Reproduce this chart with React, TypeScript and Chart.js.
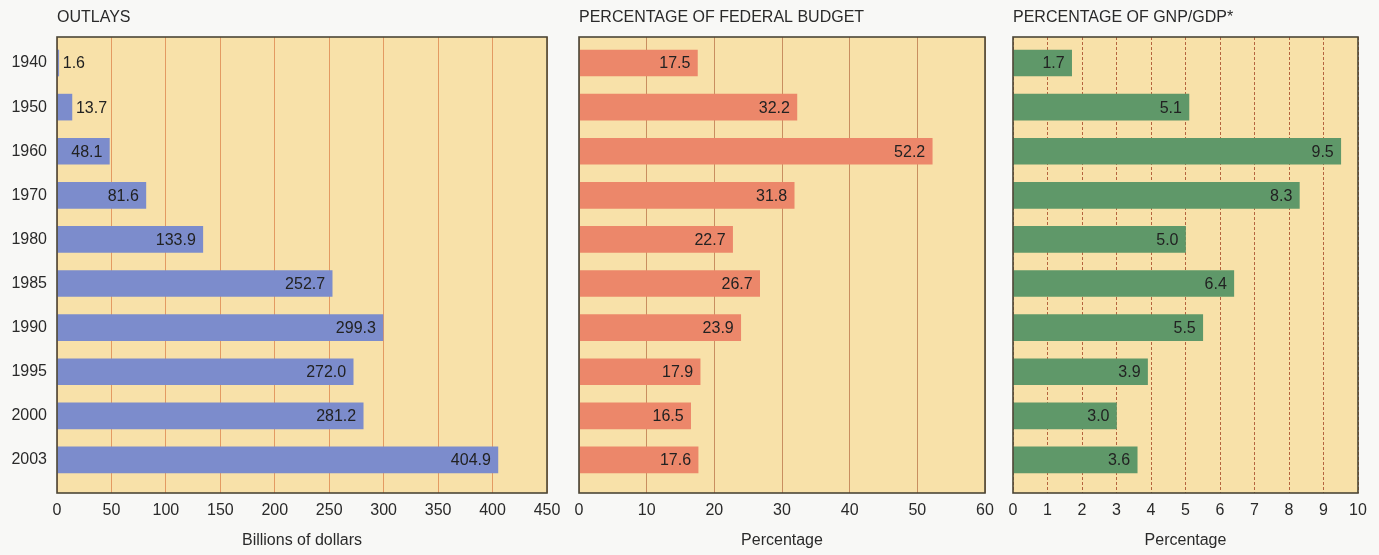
import React, { useEffect, useRef } from 'react';
import { Chart, registerables } from 'chart.js';

Chart.register(...registerables);

const YEARS = ['1940', '1950', '1960', '1970', '1980', '1985', '1990', '1995', '2000', '2003'];
const OUTLAYS = [1.6, 13.7, 48.1, 81.6, 133.9, 252.7, 299.3, 272.0, 281.2, 404.9];
const PCT_BUDGET = [17.5, 32.2, 52.2, 31.8, 22.7, 26.7, 23.9, 17.9, 16.5, 17.6];
const PCT_GDP = [1.7, 5.1, 9.5, 8.3, 5.0, 6.4, 5.5, 3.9, 3.0, 3.6];

const OUTLAY_AXIS = { max: 450, step: 50 };
const BUDGET_AXIS = { max: 60, step: 10 };
const GDP_AXIS = { max: 10, step: 1 };

const FONT = "'Liberation Sans', Arial, sans-serif";
const TEXT = '#2a2a2a';
const PLOT_BG = '#f8e1a9';
const FRAME = '#4b4636';

const framePlugin = {
  id: 'frameAndLabels',
  beforeDraw(chart: any) {
    const { ctx, chartArea: a } = chart;
    ctx.save();
    ctx.fillStyle = PLOT_BG;
    ctx.fillRect(a.left, a.top, a.right - a.left, a.bottom - a.top);
    ctx.restore();
  },
  afterDatasetsDraw(chart: any) {
    const { ctx, chartArea: a } = chart;
    const meta = chart.getDatasetMeta(0);
    const values = chart.data.datasets[0].data;
    ctx.save();
    ctx.font = `16px ${FONT}`;
    ctx.fillStyle = '#222222';
    ctx.textBaseline = 'middle';
    meta.data.forEach((bar: any, i: number) => {
      const txt = Number(values[i].x).toFixed(1);
      const tw = ctx.measureText(txt).width;
      const w = bar.x - bar.base;
      const pad = 7;
      if (w >= tw + pad * 2) {
        ctx.textAlign = 'right';
        ctx.fillText(txt, bar.x - pad, bar.y + 1);
      } else {
        ctx.textAlign = 'left';
        ctx.fillText(txt, bar.x + 4, bar.y + 1);
      }
    });
    ctx.strokeStyle = FRAME;
    ctx.lineWidth = 1.6;
    ctx.strokeRect(a.left, a.top, a.right - a.left, a.bottom - a.top);
    ctx.restore();
  },
};

type PanelProps = {
  left: number;
  width: number;
  title: string;
  values: number[];
  axis: { max: number; step: number };
  color: string;
  gridColor: string;
  gridDash: number[];
  axisTitle: string;
  showYears: boolean;
  padLeft: number;
  padRight: number;
};

function Panel(p: PanelProps) {
  const ref = useRef<HTMLCanvasElement>(null);
  useEffect(() => {
    const chart = new Chart(ref.current as HTMLCanvasElement, {
      type: 'bar',
      data: {
        datasets: [
          {
            data: p.values.map((v, i) => ({ x: v, y: i })),
            backgroundColor: p.color,
            borderWidth: 0,
            barThickness: 26,
          } as any,
        ],
      },
      options: {
        animation: false,
        responsive: true,
        maintainAspectRatio: false,
        indexAxis: 'y',
        layout: { padding: { left: p.padLeft, right: p.padRight, top: 0, bottom: 0 } },
        plugins: {
          legend: { display: false },
          tooltip: { enabled: false },
          title: {
            display: true,
            text: p.title,
            align: 'start',
            fullSize: false,
            color: TEXT,
            font: { family: FONT, size: 16, weight: 'normal' },
            padding: { top: 8.4, bottom: 9.4 },
          },
        },
        scales: {
          x: {
            type: 'linear',
            position: 'bottom',
            min: 0,
            max: p.axis.max,
            ticks: {
              stepSize: p.axis.step,
              padding: 8,
              color: TEXT,
              font: { family: FONT, size: 16 },
              maxRotation: 0,
              autoSkip: false,
            },
            grid: { color: p.gridColor, lineWidth: 1, drawTicks: false },
            border: { display: false, dash: p.gridDash },
            title: {
              display: true,
              text: p.axisTitle,
              color: TEXT,
              font: { family: FONT, size: 16 },
              padding: { top: 0, bottom: 4.4 },
            },
            afterFit: (s: any) => {
              s.height = 62;
            },
          },
          y: {
            type: 'linear',
            reverse: true,
            offset: false,
            min: -0.59,
            max: 9.75,
            display: p.showYears,
            ticks: {
              stepSize: 1,
              autoSkip: false,
              padding: 10,
              color: TEXT,
              font: { family: FONT, size: 16 },
              callback: (v: any) =>
                Number.isInteger(v) && YEARS[v] !== undefined ? YEARS[v] : '',
            },
            grid: { display: false, drawTicks: false },
            border: { display: false },
            afterFit: (s: any) => {
              s.width = p.showYears ? 57 : 0;
            },
          },
        },
      } as any,
      plugins: [framePlugin],
    });
    return () => chart.destroy();
  }, []);
  return (
    <div style={{ position: 'absolute', left: p.left, top: 0, width: p.width, height: 555 }}>
      <canvas ref={ref} />
    </div>
  );
}

export default function App() {
  return (
    <div
      style={{
        position: 'absolute',
        left: 0,
        top: 0,
        width: 1379,
        height: 555,
        background: '#f8f8f6',
        overflow: 'hidden',
      }}
    >
      <Panel
        left={0}
        width={575}
        title="OUTLAYS"
        values={OUTLAYS}
        axis={OUTLAY_AXIS}
        color="#7c8ccc"
        gridColor="#e39a62"
        gridDash={[]}
        axisTitle="Billions of dollars"
        showYears={true}
        padLeft={0}
        padRight={28}
      />
      <Panel
        left={560}
        width={450}
        title="PERCENTAGE OF FEDERAL BUDGET"
        values={PCT_BUDGET}
        axis={BUDGET_AXIS}
        color="#ec876a"
        gridColor="#c98e60"
        gridDash={[]}
        axisTitle="Percentage"
        showYears={false}
        padLeft={19}
        padRight={25}
      />
      <Panel
        left={1000}
        width={379}
        title="PERCENTAGE OF GNP/GDP*"
        values={PCT_GDP}
        axis={GDP_AXIS}
        color="#5f9869"
        gridColor="#b5643f"
        gridDash={[3, 2]}
        axisTitle="Percentage"
        showYears={false}
        padLeft={13}
        padRight={21}
      />
    </div>
  );
}
